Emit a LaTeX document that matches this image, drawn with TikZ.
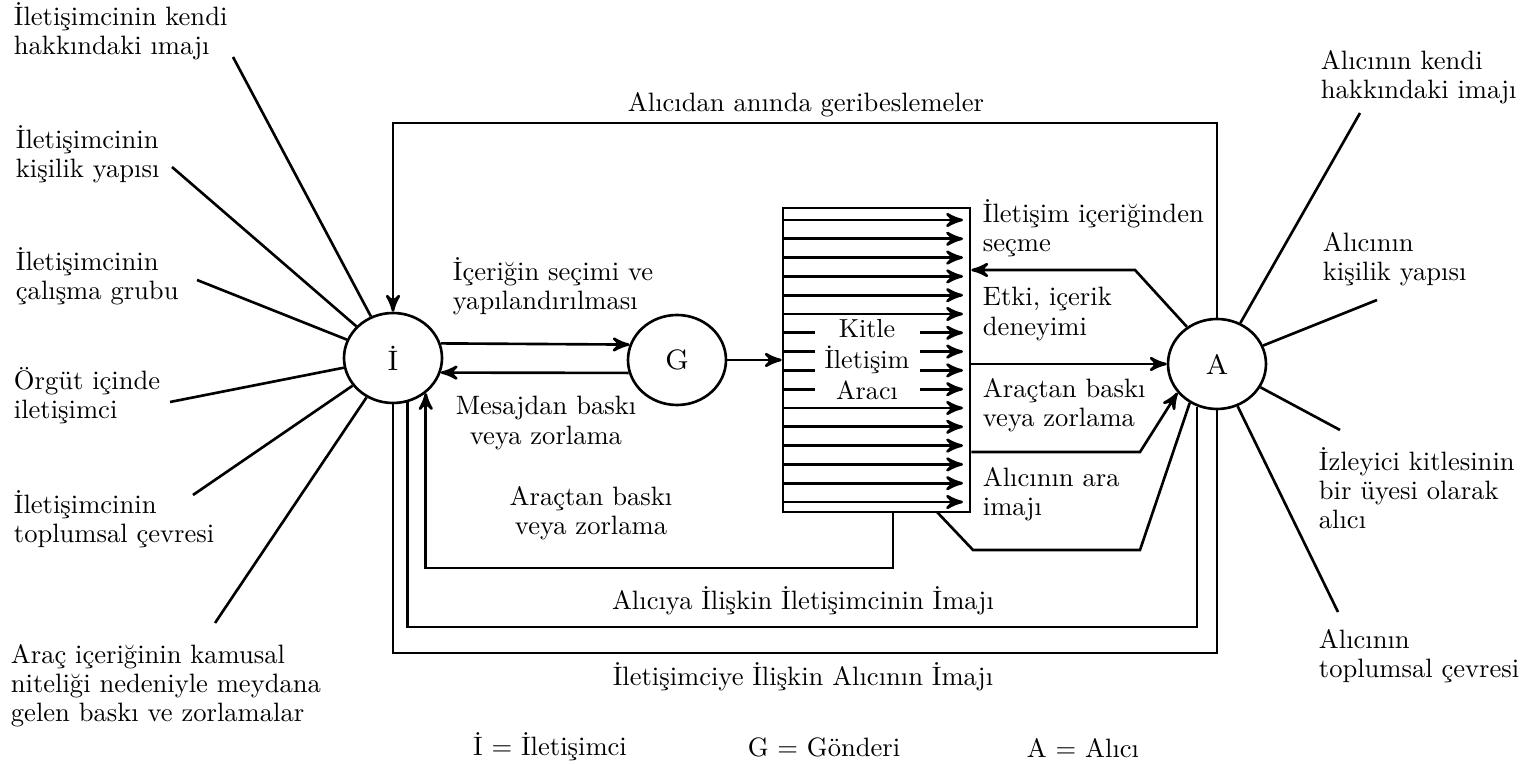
\documentclass[tikz,border=0pt]{standalone}
\usepackage{fontspec}
\usepackage{tikz}
\usetikzlibrary{arrows}
\usetikzlibrary{shapes.geometric}
\tikzset{txt/.style = {font = \fontsize{10.8}{11.8}\selectfont, scale = 0.7, inner sep = 0pt, align = left},
         mid/.style = {txt, align = center},
         ring/.style = {ellipse, draw, minimum width = 9.8mm, minimum height = 9mm,
                        inner sep = 0pt, font = \fontsize{8}{9}\selectfont}}

\begin{document}
\begin{tikzpicture}[x = 0.1mm, y = -0.1mm, line width = 0.75pt, >= stealth']
    \useasboundingbox (0, 0) rectangle (1528, 765);

    \node [ring] (I) at (393, 358) {İ};
    \node [ring] (G) at (677, 360) {G};
    \node [ring] (A) at (1217, 364) {A};
    \node [draw, minimum width = 18.7mm, minimum height = 30.4mm, inner sep = 0pt] (box) at (876.5, 360) {};

    \foreach \k in {0, 1, 2, 3, 4, 5, 10, 11, 12, 13, 14, 15}
        \draw [->] (783, {220 + 18.8*\k}) -- (963, {220 + 18.8*\k});
    \foreach \k in {6, 7, 8, 9} {
        \draw (783, {220 + 18.8*\k}) -- (815, {220 + 18.8*\k});
        \draw [->] (920, {220 + 18.8*\k}) -- (963, {220 + 18.8*\k});
    }
    \node [mid, font = \fontsize{10.6}{12.6}\selectfont] (kitle) at (867, 360) {Kitle\\İletişim\\Aracı};

    \node [txt, anchor = west] (l1) at (13, 31) {İletişimcinin kendi\\hakkındaki ımajı};
    \node [txt, anchor = west] (l2) at (15, 154) {İletişimcinin\\kişilik yapısı};
    \node [txt, anchor = west] (l3) at (15, 276) {İletişimcinin\\çalışma grubu};
    \node [txt, anchor = west] (l4) at (13, 396) {Örgüt içinde\\iletişimci};
    \node [txt, anchor = west] (l5) at (13, 519) {İletişimcinin\\toplumsal çevresi};
    \node [txt, anchor = west] (l6) at (10, 686) {Araç içeriğinin kamusal\\niteliği nedeniyle meydana\\gelen baskı ve zorlamalar};

    \node [txt, anchor = west] (r1) at (1320, 77) {Alıcının kendi\\hakkındaki imajı};
    \node [txt, anchor = west] (r2) at (1322, 259) {Alıcının\\kişilik yapısı};
    \node [txt, anchor = west] (r3) at (1318, 488) {İzleyici kitlesinin\\bir üyesi olarak\\alıcı};
    \node [txt, anchor = west] (r4) at (1318, 656) {Alıcının\\toplumsal çevresi};

    \coordinate (s1) at (233, 57);
    \coordinate (s2) at (172, 167);
    \coordinate (s3) at (197, 280);
    \coordinate (s4) at (170, 402);
    \coordinate (s5) at (193, 495);
    \coordinate (s6) at (215, 623);
    \coordinate (t1) at (1360, 113);
    \coordinate (t2) at (1377, 300);
    \coordinate (t3) at (1340, 430);
    \coordinate (t4) at (1338, 612);
    \foreach \s in {s1, s2, s3, s4, s5, s6}
        \draw (\s) -- (I);
    \foreach \t in {t1, t2, t3, t4}
        \draw (\t) -- (A);

    \coordinate (topy) at (0, 123);
    \coordinate (b1) at (1135, 270);
    \coordinate (b2) at (1140, 452);
    \coordinate (b3) at (973, 550);
    \coordinate (b4) at (1140, 550);
    \coordinate (b5) at (937, 512);
    \coordinate (b6) at (893, 568);
    \coordinate (b7) at (0, 627);
    \coordinate (b8) at (0, 653);

    \draw [->] (A.north) |- (topy -| I.north) -- (I.north);
    \draw [->] (I.17) -- (G.162);
    \draw [->] (G.195) -- (I.343);
    \draw [->] (G) -- (box);
    \draw [->] (box.east |- A.west) -- (A.west);
    \draw [->] (A.129) -- (b1) -- (b1 -| box.east);
    \draw [->] (b2 -| box.east) -- (b2) -- (A.216);
    \draw (b5) -- (b3) -- (b4) -- (A.235);
    \draw [->] (b6 |- box.south) -- (b6) -| (I.313);
    \draw (I.288) |- (b7 -| A.245) -- (A.245);
    \draw (I.south) |- (b8 -| A.south) -- (A.south);

    \node [mid] (fb) at (806, 105) {Alıcıdan anında geribeslemeler};
    \node [txt, anchor = west] (sel) at (452, 286) {İçeriğin seçimi ve\\yapılandırılması};
    \node [mid] (msg) at (546, 423) {Mesajdan baskı\\veya zorlama};
    \node [mid] (arc) at (591, 513) {Araçtan baskı\\veya zorlama};
    \node [mid] (aim) at (803, 601) {Alıcıya İlişkin İletişimcinin İmajı};
    \node [mid] (iim) at (803, 677) {İletişimciye İlişkin Alıcının İmajı};

    \node [txt, anchor = west] (c1) at (982, 228) {İletişim içeriğinden\\seçme};
    \node [txt, anchor = west] (c2) at (982, 314) {Etki, içerik\\deneyimi};
    \node [txt, anchor = west] (c3) at (982, 405) {Araçtan baskı\\veya zorlama};
    \node [txt, anchor = west] (c4) at (982, 494) {Alıcının ara\\imajı};

    \node [mid] (kI) at (550, 747) {İ = İletişimci};
    \node [mid] (kG) at (824, 747) {G = Gönderi};
    \node [mid] (kA) at (1083, 748) {A = Alıcı};
\end{tikzpicture}
\end{document}
